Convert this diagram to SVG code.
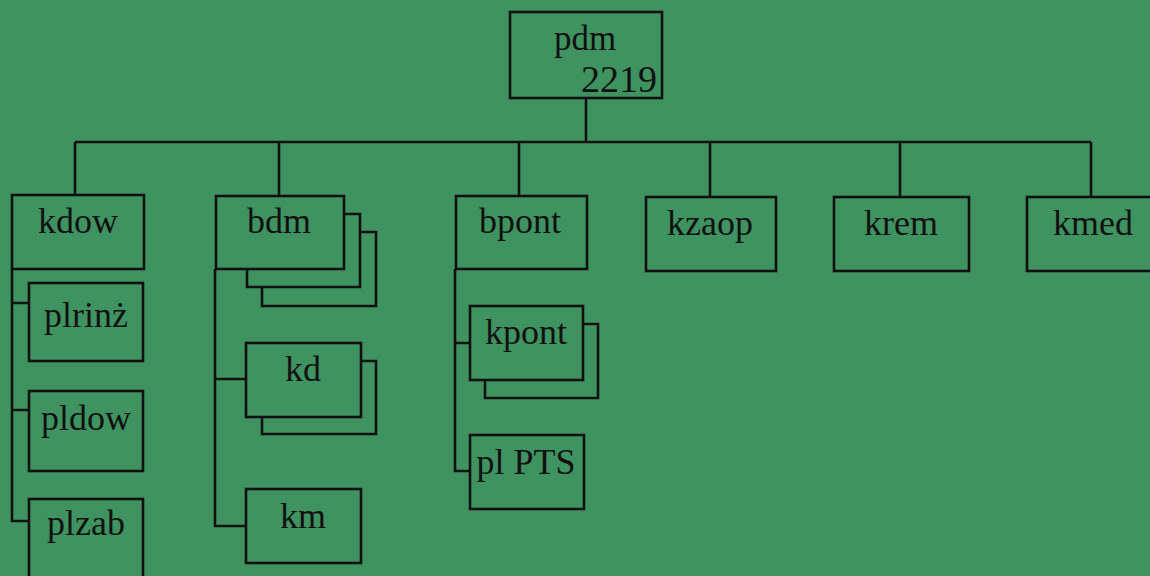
<svg xmlns="http://www.w3.org/2000/svg" width="1150" height="576" viewBox="0 0 1150 576">
<style>
.b{fill:none;stroke:#111;stroke-width:2.6}
.c{fill:none;stroke:#111;stroke-width:2.6}
.t{font-family:"Liberation Serif","Times New Roman",serif;font-size:36px;fill:#111;text-anchor:middle}
</style>
<rect x="0" y="0" width="1150" height="576" fill="#3f9361"/>
<g id="connectors">
<path class="c" d="M586 98V142M75 142H1091M75 142V195M279 142V196M519 142V196M710 142V197M900 142V197M1091 142V197"/>
<path class="c" d="M12 269V521H29M12 303H29M12 410H29"/>
<path class="c" d="M215 269V526H247M215 379H247"/>
<path class="c" d="M455 269V471H470M455 343H470"/>
</g>
<g id="pdm"><rect class="b" x="510" y="12" width="152" height="86"/><text class="t" x="585" y="50" style="font-size:35px">pdm</text><text class="t" x="657" y="92" style="text-anchor:end;font-size:38px">2219</text></g>
<g id="kdow"><rect class="b" x="12" y="195" width="132" height="74"/><text class="t" x="78" y="233">kdow</text></g>
<g id="plrinz"><rect class="b" x="29" y="283" width="114" height="78"/><text class="t" x="86" y="327">plrinż</text></g>
<g id="pldow"><rect class="b" x="29" y="391" width="114" height="80"/><text class="t" x="86" y="430">pldow</text></g>
<g id="plzab"><rect class="b" x="29" y="499" width="114" height="100"/><text class="t" x="86" y="535">plzab</text></g>
<g id="bdm"><path class="b" d="M344 214H360V287H247V269M360 232H376V306H262V287"/><rect class="b" x="216" y="196" width="128" height="73"/><text class="t" x="279" y="233">bdm</text></g>
<g id="kd"><path class="b" d="M361 361H376V434H262V417"/><rect class="b" x="246" y="343" width="115" height="74"/><text class="t" x="303" y="381">kd</text></g>
<g id="km"><rect class="b" x="246" y="489" width="115" height="74"/><text class="t" x="303" y="528">km</text></g>
<g id="bpont"><rect class="b" x="456" y="196" width="131" height="73"/><text class="t" x="520" y="233">bpont</text></g>
<g id="kpont"><path class="b" d="M583 324H598V398H485V380"/><rect class="b" x="470" y="306" width="113" height="74"/><text class="t" x="526" y="344">kpont</text></g>
<g id="plPTS"><rect class="b" x="470" y="435" width="114" height="74"/><text class="t" x="526" y="474">pl PTS</text></g>
<g id="kzaop"><rect class="b" x="646" y="197" width="130" height="74"/><text class="t" x="710" y="235">kzaop</text></g>
<g id="krem"><rect class="b" x="834" y="197" width="135" height="74"/><text class="t" x="901" y="235">krem</text></g>
<g id="kmed"><rect class="b" x="1027" y="197" width="140" height="74"/><text class="t" x="1093" y="235">kmed</text></g>
</svg>
